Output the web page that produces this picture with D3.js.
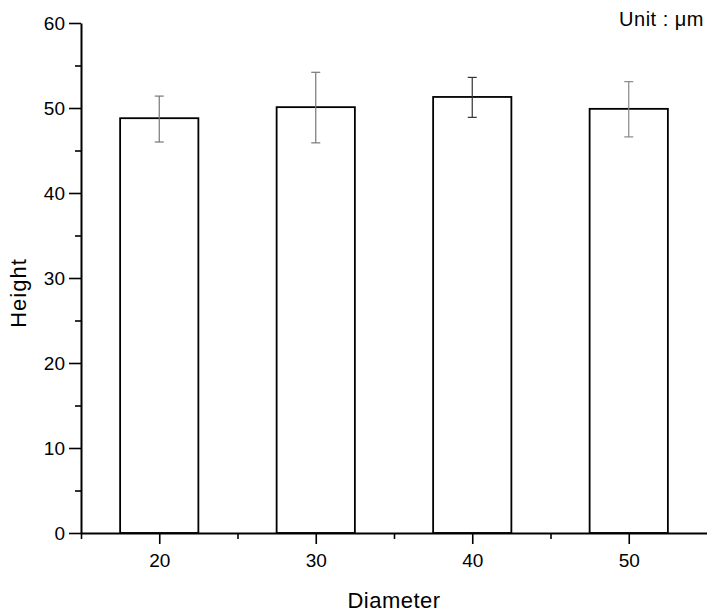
<!DOCTYPE html>
<html>
<head>
<meta charset="utf-8">
<script src="https://cdn.jsdelivr.net/npm/d3@7"></script>
<style>
  body { margin: 0; background: #fff; }
  text { font-family: "Liberation Sans", Arial, sans-serif; fill: #000; }
</style>
</head>
<body>
<svg id="chart"></svg>
<script>
// values
var diameters = [20, 30, 40, 50];
var heights = [48.8, 50.1, 51.3, 49.9];
var errUpper = [51.4, 54.2, 53.6, 53.1];
var errLower = [46.0, 45.9, 48.9, 46.6];
var errColors = ["#777", "#777", "#333", "#888"];
var yTicks = [0, 10, 20, 30, 40, 50, 60];
var xTicks = [20, 30, 40, 50];

var svg = d3.select("#chart")
  .attr("width", 707)
  .attr("height", 615);

var margin = {top: 23, right: 0, bottom: 82, left: 81};
var width = 707 - margin.left - margin.right,
    height = 615 - margin.top - margin.bottom;

var x = d3.scaleLinear().domain([15, 55]).range([0, width]);
var y = d3.scaleLinear().domain([0, 60]).range([height, 0]);

var g = svg.append("g")
  .attr("transform", "translate(" + margin.left + "," + margin.top + ")");

//bars
g.selectAll(".bar")
  .data(diameters)
  .enter()
  .append("rect")
  .attr("class", "bar")
  .attr("x", function (d) { return x(d - 2.5); })
  .attr("width", function (d) { return x(d + 2.5) - x(d - 2.5); })
  .attr("y", function (d, i) { return y(heights[i]); })
  .attr("height", function (d, i) { return height - y(heights[i]); })
  .style("fill", "white")
  .style("stroke", "black")
  .style("stroke-width", 1.8);

//error bars
var eb = g.selectAll(".err")
  .data(diameters)
  .enter()
  .append("g")
  .attr("class", "err")
  .style("stroke", function (d, i) { return errColors[i]; })
  .style("stroke-width", 1.2);

eb.append("line")
  .attr("x1", function (d) { return x(d); })
  .attr("x2", function (d) { return x(d); })
  .attr("y1", function (d, i) { return y(errUpper[i]); })
  .attr("y2", function (d, i) { return y(errLower[i]); });

[errUpper, errLower].forEach(function (arr) {
  eb.append("line")
    .attr("x1", function (d) { return x(d) - 4.5; })
    .attr("x2", function (d) { return x(d) + 4.5; })
    .attr("y1", function (d, i) { return y(arr[i]); })
    .attr("y2", function (d, i) { return y(arr[i]); });
});

//y axis, major + minor ticks
var yAxis = g.append("g")
  .call(d3.axisLeft(y).tickValues(yTicks).tickSize(12).tickPadding(4).tickSizeOuter(0));
g.append("g")
  .call(d3.axisLeft(y).tickValues([5, 15, 25, 35, 45, 55]).tickSize(6).tickFormat("").tickSizeOuter(0))
  .select("path").remove();

//x axis, major + minor ticks
var xAxis = g.append("g")
  .attr("transform", "translate(0," + height + ")")
  .call(d3.axisBottom(x).tickValues(xTicks).tickSize(11).tickPadding(10).tickSizeOuter(0));
g.append("g")
  .attr("transform", "translate(0," + height + ")")
  .call(d3.axisBottom(x).tickValues([15, 25, 35, 45]).tickSize(6).tickFormat("").tickSizeOuter(0))
  .select("path").remove();

g.selectAll(".domain").style("stroke-width", 2);
g.selectAll(".tick line").style("stroke-width", 1.6);
yAxis.selectAll("text").style("font-size", "19px").attr("dy", "0.36em");
xAxis.selectAll("text").style("font-size", "19px");

//axis titles
svg.append("text")
  .attr("x", margin.left + width / 2)
  .attr("y", 608)
  .attr("text-anchor", "middle")
  .style("font-size", "22px")
  .style("letter-spacing", "0.5px")
  .text("Diameter");

svg.append("text")
  .attr("transform", "translate(26,293) rotate(-90)")
  .attr("text-anchor", "middle")
  .style("font-size", "22px")
  .style("letter-spacing", "1px")
  .text("Height");

svg.append("text")
  .attr("x", 704)
  .attr("y", 26)
  .attr("text-anchor", "end")
  .style("font-size", "20px")
  .style("letter-spacing", "0.5px")
  .text("Unit : \u03bcm");
</script>
</body>
</html>
